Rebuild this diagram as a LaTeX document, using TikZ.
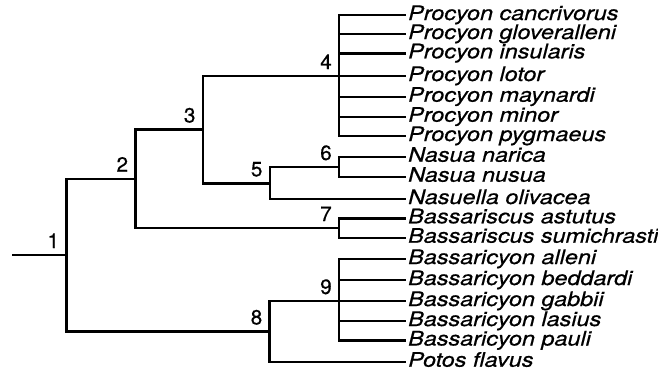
\documentclass[tikz,border=0pt]{standalone}
\usepackage{fontspec}
\setmainfont{TeX Gyre Heros}[FakeBold=0.6]
\newfontfamily\leaffont[FakeStretch=1.17,FakeBold=0.6]{TeX Gyre Heros}
\usetikzlibrary{calc}
\tikzset{
  branch/.style={line width=1.8pt, line join=miter, line cap=rect},
  leaf/.style={anchor=base west, inner sep=0pt, font=\leaffont\itshape\fontsize{15}{17}\selectfont},
  lab/.style={anchor=base east, inner sep=0pt, font=\fontsize{15.5}{17}\selectfont}
}
\begin{document}
\begin{tikzpicture}[x=0.75pt,y=-0.75pt]
\useasboundingbox (0,0) rectangle (658,375);
% junctions
\coordinate (r)  at (13,255);
\coordinate (n1) at (66.3,255);
\coordinate (n2) at (135.3,178.7);
\coordinate (n3) at (202.7,129.5);
\coordinate (n4) at (339,76);
\coordinate (n5) at (269.7,183.3);
\coordinate (n6) at (339,167);
\coordinate (n7) at (339,228);
\coordinate (n8) at (269.5,331.5);
\coordinate (n9) at (339,301);
% leaf ends
\foreach \i/\y in {1/15,2/34,3/53.3,4/76,5/96.7,6/116.7,7/136,8/156.7,9/176.7,10/199,11/218.3,12/237.7,13/259,14/280,15/301,16/321,17/340.5,18/361.7}
  \coordinate (e\i) at (405,\y);
% leaf names
\foreach \i/\t in {1/Procyon cancrivorus,2/Procyon gloveralleni,3/Procyon insularis,4/Procyon lotor,5/Procyon maynardi,6/Procyon minor,7/Procyon pygmaeus,8/Nasua narica,9/Nasua nusua,10/Nasuella olivacea,11/Bassariscus astutus,12/Bassariscus sumichrasti,13/Bassaricyon alleni,14/Bassaricyon beddardi,15/Bassaricyon gabbii,16/Bassaricyon lasius,17/Bassaricyon pauli,18/Potos flavus}
  \node[leaf] (t\i) at ($(e\i)+(3,5)$) {\t};
% branches
\draw[branch] (r) -- (n1);
\draw[branch] (n2) -| (n1) |- (n8);
\draw[branch] (n3) -| (n2) |- (n7);
\draw[branch] (n4) -| (n3) |- (n5);
\draw[branch] (e1) -| (n4) |- (e7);
\foreach \i in {2,3,4,5,6} \draw[branch] (n4 |- e\i) -- (e\i);
\draw[branch] (n6) -| (n5) |- (e10);
\draw[branch] (e8) -| (n6) |- (e9);
\draw[branch] (e11) -| (n7) |- (e12);
\draw[branch] (n9) -| (n8) |- (e18);
\draw[branch] (e13) -| (n9) |- (e17);
\foreach \i in {14,15,16} \draw[branch] (n9 |- e\i) -- (e\i);
% labels
\foreach \i in {1,...,9}
  \node[lab] (l\i) at ($(n\i)+(-7,-7)$) {\i};
\end{tikzpicture}
\end{document}
